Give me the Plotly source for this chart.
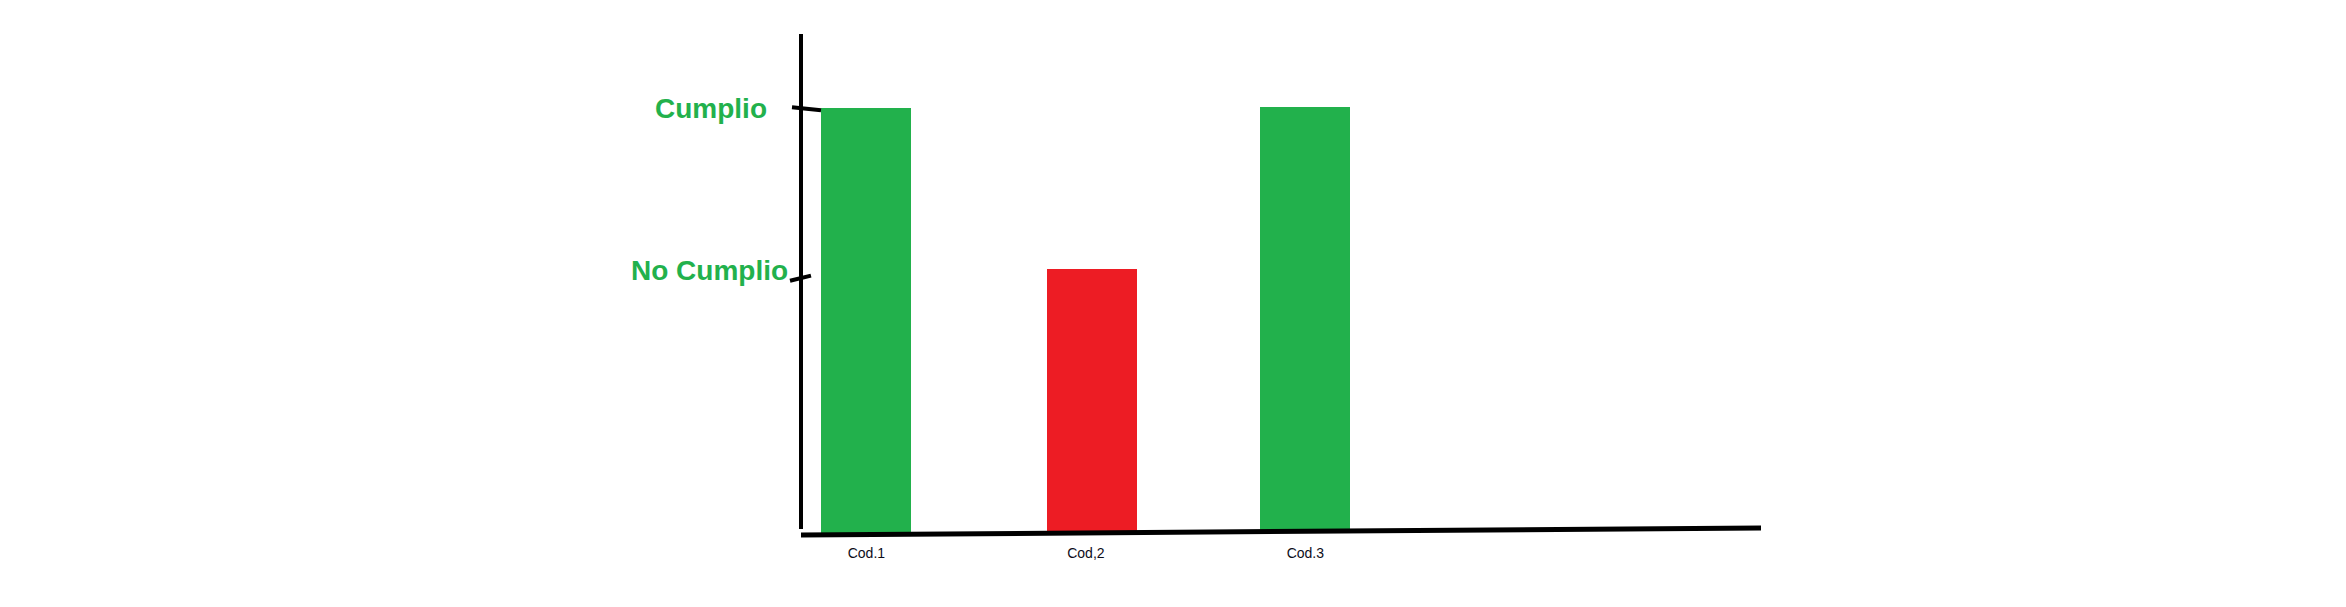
import plotly.graph_objects as go

categories = ["Cod.1", "Cod,2", "Cod.3"]
values = [1.002, 0.623, 1.005]
bar_colors = ["#22b14c", "#ed1c24", "#22b14c"]
tick_values = [0.601, 1.0]
tick_labels = ["No Cumplio", "Cumplio"]

# page has an 8px body margin; figure is sized/shifted to compensate
W, H = 2330, 591
ML, MT = 793, 26
plot_w, plot_h = 960, 499
MR = W - ML - plot_w
MB = H - MT - plot_h

BAR_W = 0.41
fig = go.Figure()
fig.add_trace(go.Bar(
    x=categories, y=values,
    marker=dict(color=bar_colors, line=dict(width=0)),
    width=BAR_W,
    offset=[-BAR_W / 2, -BAR_W / 2 + 0.03, -BAR_W / 2],
    hoverinfo="skip",
))

# hand-drawn axis lines
fig.add_shape(type="line", xref="paper", yref="paper", x0=0, y0=0.008, x1=0, y1=1,
              line=dict(color="black", width=4), layer="above")
fig.add_shape(type="line", xref="paper", yref="paper", x0=0, y0=-0.004, x1=1, y1=0.010,
              line=dict(color="black", width=5), layer="above")

# tick marks crossing the axis (px from axis, slope in y units) + labels (offset, yshift)
tick_style = {
    "Cumplio": (-9, 20, 0.004, -0.003, -32, 1),
    "No Cumplio": (-11, 10, -0.006, 0.006, -11, 8),
}
for tv, tl in zip(tick_values, tick_labels):
    a, b, d0, d1, off, up = tick_style[tl]
    fig.add_shape(type="line", xref="paper", yref="y",
                  x0=a / plot_w, x1=b / plot_w, y0=tv + d0, y1=tv + d1,
                  line=dict(color="black", width=4), layer="above")
    fig.add_annotation(x=0, xref="paper", y=tv, yref="y", text="<b>%s</b>" % tl,
                       showarrow=False, xanchor="right", yanchor="middle",
                       xshift=off, yshift=up,
                       font=dict(family="Liberation Sans, Arial, sans-serif", size=28, color="#22b14c"))

fig.update_layout(
    width=W, height=H,
    margin=dict(l=ML, r=MR, t=MT, b=MB, pad=0),
    paper_bgcolor="white", plot_bgcolor="white",
    showlegend=False,
    bargap=0,
    xaxis=dict(range=[-0.298, 4.076], showgrid=False, zeroline=False, showline=False,
               ticks="", tickfont=dict(family="Liberation Sans Narrow, Arial Narrow, Liberation Sans, sans-serif",
                                       size=14, color="#0d0d1a"),
               ticklabelstandoff=10),
    yaxis=dict(range=[0, 1.177], showgrid=False, zeroline=False, showline=False,
               showticklabels=False, ticks=""),
)

fig.write_html("out.html")
